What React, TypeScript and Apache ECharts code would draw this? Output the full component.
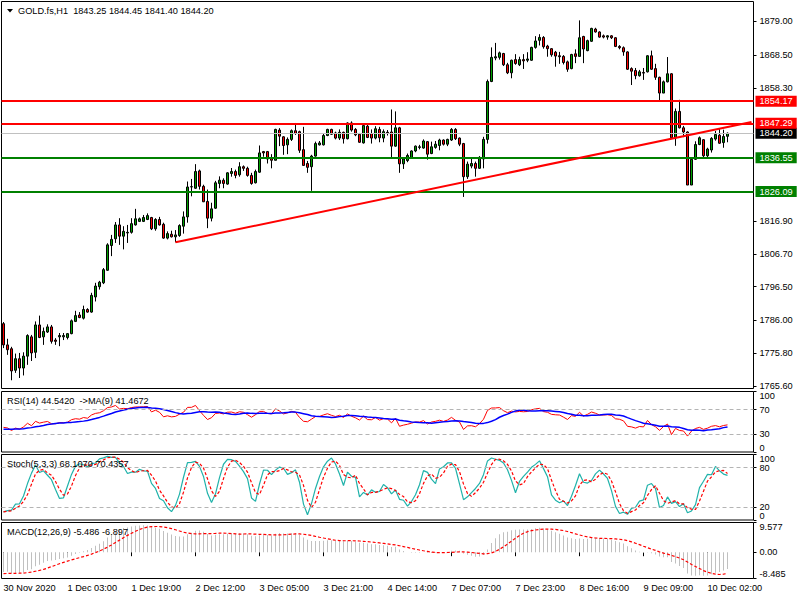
import React, { useEffect, useRef } from 'react';
import * as echarts from 'echarts';

// ---------- texts ----------
const symbolTitle = 'GOLD.fs,H1';
const rsiTitle = 'RSI(14) 44.5420  ->MA(9) 41.4672';
const stochTitle = 'Stoch(5,3,3) 68.1070 70.4357';
const macdTitle = 'MACD(12,26,9) -5.486 -6.897';

// ---------- x axis ----------
const xTickLabels = [
  '30 Nov 2020', '1 Dec 03:00', '1 Dec 19:00', '2 Dec 12:00', '3 Dec 05:00', '3 Dec 21:00',
  '4 Dec 14:00', '7 Dec 07:00', '7 Dec 23:00', '8 Dec 16:00', '9 Dec 09:00', '10 Dec 02:00',
];
const BARS_PER_LABEL = 16;
const SLOT_COUNT = 188;

// ---------- H1 candles: [open, high, low, close] ----------
const ohlc: number[][] = [
  [1785.0, 1785.5, 1777.4, 1778.4], [1778.4, 1780.3, 1775.3, 1776.9], [1777.2, 1777.8, 1767.4, 1770.3],
  [1770.5, 1775.7, 1769.7, 1774.1], [1774.1, 1775.9, 1768.1, 1771.2], [1771.2, 1776.1, 1768.9, 1774.9],
  [1774.9, 1781.7, 1772.2, 1781.3], [1780.9, 1781.5, 1773.4, 1775.9], [1776.1, 1785.7, 1774.3, 1784.6],
  [1784.6, 1787.5, 1780.5, 1780.7], [1780.9, 1783.8, 1778.4, 1782.6], [1782.4, 1784.8, 1782.1, 1784.0],
  [1784.0, 1784.6, 1778.8, 1779.5], [1779.9, 1780.5, 1778.4, 1779.5], [1780.9, 1782.1, 1778.0, 1781.3],
  [1780.9, 1782.1, 1779.9, 1781.3], [1780.7, 1782.1, 1780.1, 1781.9], [1781.9, 1786.3, 1781.7, 1785.9],
  [1785.7, 1789.0, 1785.5, 1787.5], [1787.7, 1788.6, 1786.7, 1786.9], [1786.7, 1790.6, 1786.3, 1789.4],
  [1789.4, 1789.8, 1788.4, 1788.6], [1788.6, 1794.6, 1788.4, 1793.8], [1793.3, 1797.7, 1791.9, 1796.7],
  [1796.5, 1798.3, 1795.6, 1797.9], [1797.7, 1802.3, 1797.3, 1801.8], [1801.6, 1810.0, 1801.4, 1809.5],
  [1809.3, 1812.6, 1806.0, 1811.2], [1811.4, 1816.6, 1810.1, 1815.7], [1815.7, 1817.8, 1809.5, 1812.2],
  [1812.2, 1815.3, 1808.1, 1813.7], [1813.2, 1815.7, 1810.1, 1813.4], [1813.4, 1817.8, 1813.0, 1816.1],
  [1815.7, 1820.7, 1815.5, 1817.6], [1816.8, 1818.0, 1816.6, 1817.6], [1816.8, 1818.8, 1816.6, 1818.0],
  [1817.4, 1819.3, 1817.2, 1818.6], [1818.0, 1818.2, 1814.1, 1814.5], [1814.5, 1817.8, 1813.9, 1817.4],
  [1817.4, 1818.2, 1815.5, 1815.7], [1815.9, 1816.4, 1811.4, 1811.6], [1811.6, 1813.7, 1811.2, 1813.0],
  [1812.8, 1813.9, 1811.8, 1812.0], [1812.0, 1814.1, 1810.3, 1812.6], [1812.4, 1815.9, 1812.0, 1815.5],
  [1815.3, 1819.9, 1813.0, 1818.2], [1818.2, 1829.2, 1816.4, 1827.5], [1827.5, 1830.0, 1824.6, 1827.6],
  [1827.1, 1834.6, 1826.9, 1832.3], [1832.5, 1832.9, 1826.7, 1827.7], [1827.7, 1828.2, 1822.8, 1822.9],
  [1823.0, 1826.7, 1814.7, 1817.8], [1817.8, 1822.6, 1816.8, 1820.7], [1820.9, 1829.4, 1820.7, 1828.8],
  [1828.6, 1830.8, 1827.1, 1829.6], [1829.6, 1830.2, 1827.1, 1828.6], [1828.4, 1832.1, 1828.2, 1831.9],
  [1831.7, 1833.4, 1830.7, 1832.3], [1832.3, 1832.9, 1830.2, 1831.1], [1831.3, 1835.2, 1830.7, 1833.8],
  [1833.8, 1834.2, 1832.5, 1833.3], [1833.3, 1833.8, 1830.7, 1831.1], [1831.1, 1831.9, 1828.2, 1828.6],
  [1828.8, 1832.9, 1828.6, 1832.3], [1832.1, 1840.4, 1831.9, 1838.1], [1838.5, 1838.7, 1836.9, 1838.1],
  [1838.5, 1838.7, 1834.8, 1836.2], [1836.5, 1837.7, 1833.3, 1835.8], [1835.8, 1845.6, 1835.8, 1845.4],
  [1845.2, 1845.8, 1840.2, 1843.3], [1843.1, 1843.3, 1837.5, 1840.4], [1840.6, 1842.9, 1837.7, 1842.3],
  [1842.3, 1845.4, 1841.8, 1845.0], [1845.0, 1847.4, 1843.7, 1844.1], [1844.7, 1845.0, 1838.1, 1838.9],
  [1839.1, 1846.2, 1834.2, 1834.2], [1834.8, 1835.6, 1831.9, 1833.6], [1833.8, 1837.5, 1826.3, 1837.1],
  [1837.1, 1841.6, 1836.9, 1841.0], [1840.6, 1841.8, 1840.4, 1841.2], [1840.6, 1844.1, 1840.4, 1843.5],
  [1843.5, 1845.6, 1843.3, 1845.4], [1845.4, 1845.6, 1843.7, 1843.9], [1844.3, 1844.7, 1842.3, 1842.7],
  [1842.7, 1845.4, 1842.1, 1844.5], [1844.5, 1844.7, 1841.0, 1842.5], [1842.5, 1847.6, 1842.3, 1847.4],
  [1847.4, 1847.9, 1844.7, 1845.2], [1845.4, 1845.8, 1843.3, 1843.7], [1843.9, 1844.3, 1841.2, 1841.4],
  [1841.2, 1846.6, 1841.0, 1846.6], [1846.4, 1847.2, 1842.7, 1842.9], [1844.1, 1845.4, 1841.0, 1842.7],
  [1842.7, 1846.4, 1842.3, 1845.6], [1845.4, 1846.2, 1841.4, 1842.8], [1842.7, 1845.4, 1841.4, 1844.7],
  [1844.5, 1845.2, 1843.5, 1844.3], [1844.6, 1851.6, 1836.6, 1840.2], [1840.2, 1851.0, 1840.0, 1845.9],
  [1845.9, 1846.2, 1831.9, 1834.7], [1834.7, 1836.7, 1833.1, 1836.2], [1835.7, 1837.9, 1835.2, 1837.3],
  [1836.7, 1838.9, 1836.2, 1838.7], [1838.7, 1840.4, 1838.3, 1840.2], [1839.8, 1840.6, 1839.2, 1840.0],
  [1839.6, 1842.3, 1839.4, 1841.8], [1841.6, 1841.8, 1836.0, 1837.7], [1837.9, 1841.6, 1837.7, 1840.0],
  [1839.8, 1841.8, 1839.4, 1840.8], [1840.4, 1842.5, 1838.9, 1842.1], [1842.1, 1842.3, 1840.4, 1840.8],
  [1840.8, 1842.5, 1840.2, 1842.3], [1842.1, 1845.8, 1841.8, 1845.4], [1845.4, 1845.8, 1842.1, 1842.5],
  [1842.7, 1842.9, 1840.2, 1840.8], [1841.0, 1841.2, 1824.4, 1830.7], [1830.7, 1835.4, 1830.0, 1834.6],
  [1834.0, 1836.2, 1833.3, 1834.8], [1834.8, 1835.4, 1830.7, 1833.3], [1833.3, 1837.1, 1833.1, 1836.7],
  [1836.2, 1843.1, 1833.3, 1842.3], [1842.3, 1860.9, 1841.0, 1860.3], [1860.3, 1870.9, 1860.1, 1867.8],
  [1867.6, 1872.3, 1866.9, 1868.0], [1867.8, 1869.6, 1867.1, 1869.2], [1869.0, 1869.2, 1865.1, 1865.5],
  [1865.5, 1866.1, 1862.6, 1863.0], [1863.0, 1867.1, 1861.3, 1866.9], [1867.1, 1868.8, 1865.5, 1865.9],
  [1865.5, 1868.0, 1865.1, 1867.1], [1867.1, 1868.8, 1864.2, 1866.7], [1866.9, 1869.4, 1866.3, 1867.3],
  [1866.9, 1871.1, 1866.7, 1870.9], [1870.9, 1874.4, 1870.5, 1872.9], [1873.1, 1875.0, 1871.5, 1874.0],
  [1874.0, 1874.4, 1870.5, 1871.1], [1871.3, 1871.7, 1868.0, 1870.5], [1870.5, 1870.7, 1868.0, 1868.6],
  [1869.4, 1869.8, 1864.9, 1868.2], [1868.3, 1869.5, 1865.8, 1868.0], [1868.1, 1868.5, 1865.6, 1866.2],
  [1866.4, 1866.8, 1863.3, 1864.1], [1864.3, 1868.9, 1864.1, 1868.7], [1868.9, 1870.3, 1866.0, 1868.1],
  [1868.1, 1879.3, 1868.1, 1873.9], [1874.3, 1874.5, 1866.0, 1870.4], [1869.9, 1873.3, 1869.7, 1873.0],
  [1872.8, 1877.0, 1872.6, 1876.8], [1876.6, 1877.0, 1875.5, 1875.7], [1875.7, 1875.9, 1873.9, 1874.1],
  [1874.5, 1874.9, 1873.7, 1874.1], [1874.1, 1874.7, 1873.3, 1874.5], [1874.5, 1874.7, 1873.5, 1873.9],
  [1873.9, 1874.1, 1871.0, 1871.2], [1871.2, 1871.6, 1870.3, 1870.8], [1870.8, 1871.2, 1868.3, 1869.5],
  [1869.5, 1869.7, 1863.9, 1864.1], [1864.3, 1864.7, 1859.2, 1863.5], [1863.7, 1864.5, 1861.0, 1862.1],
  [1862.1, 1863.9, 1861.8, 1863.3], [1863.1, 1864.5, 1860.8, 1862.9], [1863.3, 1868.5, 1863.1, 1868.3],
  [1868.3, 1869.9, 1863.9, 1864.1], [1864.3, 1865.8, 1860.8, 1861.6], [1861.6, 1861.8, 1854.4, 1856.7],
  [1856.7, 1860.6, 1856.7, 1860.2], [1860.2, 1867.9, 1860.0, 1862.7], [1862.7, 1862.9, 1842.6, 1842.8],
  [1842.8, 1851.9, 1840.3, 1851.0], [1851.0, 1854.6, 1845.7, 1845.9], [1845.9, 1846.5, 1843.0, 1844.6],
  [1844.6, 1844.8, 1828.1, 1828.1], [1828.1, 1836.4, 1828.1, 1836.1], [1836.1, 1841.7, 1835.9, 1840.7],
  [1840.7, 1843.2, 1840.5, 1842.8], [1842.2, 1842.4, 1836.8, 1837.2], [1837.2, 1839.7, 1836.6, 1839.3],
  [1839.0, 1843.0, 1838.2, 1842.6], [1842.4, 1844.9, 1841.9, 1843.8], [1843.6, 1845.5, 1840.9, 1841.1],
  [1841.3, 1845.3, 1839.7, 1843.2], [1843.25, 1844.45, 1841.40, 1844.20],
];

// ---------- price axis & objects ----------
const priceTicks = [1879.0, 1868.5, 1858.3, 1816.9, 1806.7, 1796.5, 1786.0, 1775.8, 1765.6];
const priceRange = [1764.84, 1885.17];
const resistanceLevels = [1854.17, 1847.29];
const supportLevels = [1836.55, 1826.09];
const bidPrice = 1844.2;
const trendLine = [[43, 1810.3], [187, 1847.7]];

// ---------- indicator panels ----------
const rsiMidTicks = [70, 30];
const rsiTop = 100;
const rsiBottom = 0;
const stochMidTicks = [80, 20];
const stochTop = 100;
const stochBottom = 0;
const macdTop = 9.577;
const macdZero = 0;
const macdBottom = -8.485;

// initial states of the indicators (history before the first visible bar)
const RSI_SEED = { gain: 2.0, loss: 2.4, prevClose: 1785.0, ma: 37 };
const MACD_SEED = { ema12: 1783.0, ema26: 1789.5, main: -7.0 };

const sum = (a: number[]) => a.reduce((s, v) => s + v, 0);
const avg = (a: number[]) => sum(a) / a.length;
const r4 = (v: number) => Math.round(v * 10000) / 10000;

function computeIndicators() {
  const closes = ohlc.map((r) => r[3]);
  const highs = ohlc.map((r) => r[1]);
  const lows = ohlc.map((r) => r[2]);
  // RSI(14), Wilder smoothing
  const rsi: number[] = [];
  let ag = RSI_SEED.gain;
  let al = RSI_SEED.loss;
  let prev = RSI_SEED.prevClose;
  for (const c of closes) {
    const ch = c - prev;
    prev = c;
    ag = (ag * 13 + Math.max(ch, 0)) / 14;
    al = (al * 13 + Math.max(-ch, 0)) / 14;
    rsi.push(al === 0 ? 100 : 100 - 100 / (1 + ag / al));
  }
  const rsiHist = [...Array(8).fill(RSI_SEED.ma), ...rsi];
  const rsiMa = rsi.map((_, i) => avg(rsiHist.slice(i, i + 9)));
  // Stochastic(5,3,3)
  const num: number[] = [];
  const den: number[] = [];
  closes.forEach((c, i) => {
    const f = Math.max(0, i - 4);
    const hh = Math.max(...highs.slice(f, i + 1));
    const ll = Math.min(...lows.slice(f, i + 1));
    num.push(c - ll);
    den.push(hh - ll);
  });
  const k = closes.map((_, i) => {
    const f = Math.max(0, i - 2);
    const d = sum(den.slice(f, i + 1));
    return d === 0 ? 50 : (100 * sum(num.slice(f, i + 1))) / d;
  });
  const d = k.map((_, i) => avg(k.slice(Math.max(0, i - 2), i + 1)));
  // MACD(12,26,9)
  let e12 = MACD_SEED.ema12;
  let e26 = MACD_SEED.ema26;
  const main = closes.map((c) => {
    e12 += (2 / 13) * (c - e12);
    e26 += (2 / 27) * (c - e26);
    return e12 - e26;
  });
  const mainHist = [...Array(8).fill(MACD_SEED.main), ...main];
  const signal = main.map((_, i) => avg(mainHist.slice(i, i + 9)));
  return {
    rsi: rsi.map(r4), rsiMa: rsiMa.map(r4), k: k.map(r4), d: d.map(r4),
    main: main.map(r4), signal: signal.map(r4),
  };
}

const FONT = 'Liberation Sans';
const FS = 9.2;

function buildOption() {
  const ind = computeIndicators();
  const categories = Array.from({ length: SLOT_COUNT }, (_, i) => String(i));
  const candleData = ohlc.map(([o, h, l, c]) => [o, c, l, h]);
  const last = ohlc[ohlc.length - 1];

  const grids = [
    { top: 1.5, height: 387 },
    { top: 391.5, height: 60.5 },
    { top: 454.5, height: 65.5 },
    { top: 522.5, height: 56 },
  ].map((g) => ({
    ...g, left: 1.5, width: 752, show: true, borderColor: '#000', borderWidth: 1, backgroundColor: '#fff',
  }));

  const xAxis = grids.map((_, gi) => ({
    type: 'category', gridIndex: gi, data: categories, boundaryGap: true,
    axisLine: { show: false }, splitLine: { show: false },
    axisTick: gi === 3
      ? { show: true, interval: BARS_PER_LABEL - 1, alignWithLabel: true, length: 4, lineStyle: { color: '#000' } }
      : { show: false },
    axisLabel: gi === 3
      ? {
          show: true, interval: BARS_PER_LABEL - 1, align: 'left', margin: 5, color: '#000',
          fontSize: FS, fontFamily: FONT,
          formatter: (_v: string, idx: number) =>
            idx % BARS_PER_LABEL === 0 ? xTickLabels[idx / BARS_PER_LABEL] ?? '' : '',
        }
      : { show: false },
  }));

  const yAx = (gridIndex: number, min: number, max: number, values: number[], vAlign: string, fmt: (v: number) => string) => ({
    type: 'value', gridIndex, min, max, position: 'right',
    splitLine: { show: false }, axisLine: { show: false },
    axisTick: { show: true, length: 3, lineStyle: { color: '#000' }, customValues: values },
    axisLabel: {
      show: true, customValues: values, verticalAlign: vAlign, margin: 6, color: '#000',
      fontSize: FS, fontFamily: FONT, formatter: fmt,
    },
  });
  const macdFmt = (v: number) => (Math.abs(v) < 1e-9 ? macdZero.toFixed(2) : v.toFixed(3));

  const yAxis = [
    yAx(0, priceRange[0], priceRange[1], priceTicks, 'middle', (v) => v.toFixed(2)),
    yAx(1, 0, 100, rsiMidTicks, 'middle', (v) => String(v)),
    yAx(1, 0, 100, [rsiTop], 'top', (v) => String(v)),
    yAx(1, 0, 100, [rsiBottom], 'bottom', (v) => String(v)),
    yAx(2, 0, 100, stochMidTicks, 'middle', (v) => String(v)),
    yAx(2, 0, 100, [stochTop], 'top', (v) => String(v)),
    yAx(2, 0, 100, [stochBottom], 'bottom', (v) => String(v)),
    yAx(3, macdBottom, macdTop, [macdZero], 'middle', macdFmt),
    yAx(3, macdBottom, macdTop, [macdTop], 'top', macdFmt),
    yAx(3, macdBottom, macdTop, [macdBottom], 'bottom', macdFmt),
  ];

  const tag = (bg: string, text: string) => ({
    show: true, position: 'end', distance: 2, formatter: text, color: '#fff', backgroundColor: bg,
    padding: [1, 4, 1, 4], fontSize: FS, fontFamily: FONT,
  });
  const level = (v: number, color: string, width: number, tagColor: string) => ({
    yAxis: v, lineStyle: { color, width, type: 'solid' }, label: tag(tagColor, v.toFixed(2)),
  });

  const dashed = (values: number[]) => ({
    symbol: ['none', 'none'], silent: true, label: { show: false },
    lineStyle: { color: '#b4b4b4', type: [4, 3], width: 1 },
    data: values.map((v) => ({ yAxis: v })),
  });

  return {
    animation: false,
    backgroundColor: '#fff',
    grid: grids,
    xAxis,
    yAxis,
    graphic: [
      { type: 'polygon', z: 100, shape: { points: [[7, 9], [13, 9], [10, 12.5]] }, style: { fill: '#000' } },
      {
        type: 'text', z: 100, x: 18, y: 11,
        style: { text: `${symbolTitle}  ${last.map((v) => v.toFixed(2)).join(' ')}`, fill: '#000', fontSize: FS, fontFamily: FONT, verticalAlign: 'middle' },
      },
      { type: 'text', z: 100, x: 7, y: 401, style: { text: rsiTitle, fill: '#000', fontSize: FS, fontFamily: FONT, verticalAlign: 'middle' } },
      { type: 'text', z: 100, x: 7, y: 463.5, style: { text: stochTitle, fill: '#000', fontSize: FS, fontFamily: FONT, verticalAlign: 'middle' } },
      { type: 'text', z: 100, x: 7, y: 531.5, style: { text: macdTitle, fill: '#000', fontSize: FS, fontFamily: FONT, verticalAlign: 'middle' } },
    ],
    series: [
      {
        type: 'candlestick', xAxisIndex: 0, yAxisIndex: 0, data: candleData,
        barWidth: 3, barMinWidth: 3, barMaxWidth: 3, clip: false, large: false,
        emphasis: { disabled: true },
        itemStyle: {
          color: '#00a000', color0: '#ff0000', borderColor: '#000', borderColor0: '#000', borderColorDoji: '#000', borderWidth: 1,
        },
        markLine: {
          symbol: ['none', 'none'], silent: true, animation: false,
          data: [
            level(bidPrice, '#c0c0c0', 1, '#000'),
            ...supportLevels.map((v) => level(v, '#008000', 2, '#008000')),
            ...resistanceLevels.map((v) => level(v, '#ff0000', 2, '#ff0000')),
          ],
        },
      },
      {
        type: 'line', xAxisIndex: 0, yAxisIndex: 0, data: trendLine, symbol: 'none', silent: true, z: 5,
        lineStyle: { color: '#ff0000', width: 2 },
      },
      {
        type: 'line', xAxisIndex: 1, yAxisIndex: 1, data: ind.rsi, symbol: 'none', silent: true,
        lineStyle: { color: '#ff0000', width: 1 }, markLine: dashed(rsiMidTicks),
      },
      {
        type: 'line', xAxisIndex: 1, yAxisIndex: 1, data: ind.rsiMa, symbol: 'none', silent: true,
        lineStyle: { color: '#0000ff', width: 1.5 },
      },
      {
        type: 'line', xAxisIndex: 2, yAxisIndex: 4, data: ind.k, symbol: 'none', silent: true,
        lineStyle: { color: '#20b2aa', width: 1.2 }, markLine: dashed(stochMidTicks),
      },
      {
        type: 'line', xAxisIndex: 2, yAxisIndex: 4, data: ind.d, symbol: 'none', silent: true,
        lineStyle: { color: '#ff0000', width: 1.2, type: [3, 2] },
      },
      {
        type: 'bar', xAxisIndex: 3, yAxisIndex: 7, data: ind.main, barWidth: 1, silent: true,
        itemStyle: { color: '#c0c0c0' },
      },
      {
        type: 'line', xAxisIndex: 3, yAxisIndex: 7, data: ind.signal, symbol: 'none', silent: true,
        lineStyle: { color: '#ff0000', width: 1.2, type: [3, 2] },
      },
    ],
  };
}

export default function App() {
  const ref = useRef<HTMLDivElement>(null);
  useEffect(() => {
    if (!ref.current) return;
    const chart = echarts.init(ref.current, null, { renderer: 'svg', width: 800, height: 600 });
    chart.setOption(buildOption() as any);
    return () => chart.dispose();
  }, []);
  return (
    <div
      ref={ref}
      style={{ position: 'fixed', left: 0, top: 0, width: 800, height: 600, background: '#fff' }}
    />
  );
}
